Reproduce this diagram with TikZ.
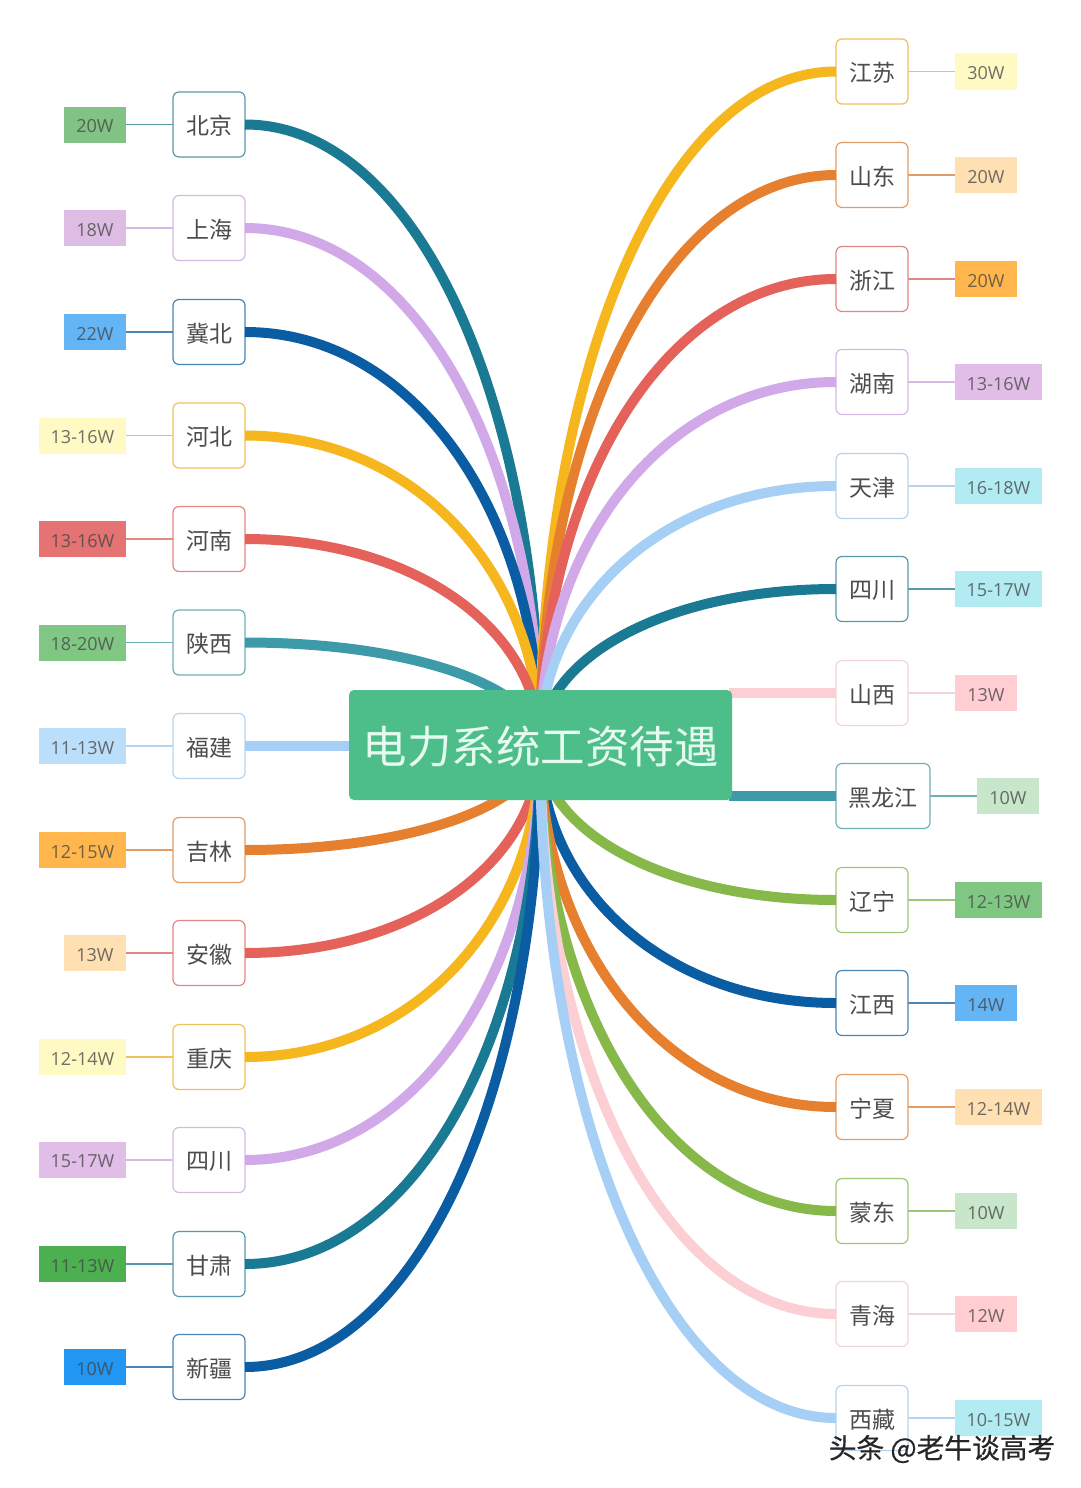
\documentclass[tikz,border=0pt]{standalone}
\usepackage{fontspec}
\setmainfont{Open Sans}
\newfontfamily\cjk{Noto Sans CJK SC}
\newfontfamily\cjkmark[FakeBold=0.5]{Noto Sans CJK SC}
\newcommand\lowtxt[1]{\raisebox{-1.6pt}[\height][\depth]{#1}}
\definecolor{cteal}{HTML}{1A7A94}
\definecolor{cpurp}{HTML}{D2A9E8}
\definecolor{cblue}{HTML}{0A5CA3}
\definecolor{cyell}{HTML}{F5B61E}
\definecolor{cred}{HTML}{E4625A}
\definecolor{ctealb}{HTML}{3D9AA8}
\definecolor{clblue}{HTML}{A6CFF5}
\definecolor{corange}{HTML}{E67F2E}
\definecolor{cgreen}{HTML}{86B94A}
\definecolor{cpink}{HTML}{FBCFD3}
\definecolor{BBDEFBc}{HTML}{BBDEFB}
\definecolor{FFCDD2c}{HTML}{FFCDD2}
\definecolor{C8E6C9c}{HTML}{C8E6C9}
\definecolor{hubgreen}{HTML}{4DBD8A}
\definecolor{hubtext}{HTML}{E6FBEF}
\tikzset{
  citybox/.style={draw=#1!75!white!92!gray,fill=white,line width=1.2pt,rounded corners=6pt,minimum height=65pt,inner sep=0pt,outer sep=0pt,text=black!70,font=\cjk\fontsize{23}{26}\selectfont},
  valbox/.style={fill=#1,minimum height=36pt,inner sep=0pt,outer sep=0pt,text=#1!30!black!80,font=\fontsize{18}{22}\selectfont},
  branch/.style={draw=#1,line width=10pt},
  twig/.style={draw=#1!75!white!92!gray,line width=1.2pt},
  hubbox/.style={fill=hubgreen,rounded corners=5pt,minimum width=383pt,minimum height=110pt,inner sep=0pt,outer sep=0pt,text=hubtext,font=\cjk\fontsize{44.5}{50}\selectfont},
  mark text/.style={text=black!85,inner sep=0pt,font=\cjkmark\fontsize{27.7}{32}\selectfont}
}
\begin{document}
\begin{tikzpicture}[x=1pt,y=-1pt]
\useasboundingbox[fill=white] (0,0) rectangle (1080,1488);
\coordinate (hub) at (540,745);
\coordinate (hubleft) at (352,745);
\coordinate (hubright) at (729,745);
% left side
\foreach \id/\nm/\yy/\val/\vw/\col/\vf in {
 a/北京/124.5/20W/62/cteal/82C285,
 b/上海/228/18W/62/cpurp/DDBDE3,
 c/冀北/332/22W/62/cblue/64B5F6,
 d/河北/435.5/13-16W/87/cyell/FFF9C4,
 e/河南/539/13-16W/87/cred/E57373,
 f/陕西/642.5/18-20W/87/ctealb/81C784,
 h/吉林/850/12-15W/87/corange/FFB74D,
 i/安徽/953/13W/62/cred/FFE0B2,
 j/重庆/1057/12-14W/87/cyell/FFF9C4,
 k/四川/1160/15-17W/87/cpurp/E1BEE7,
 l/甘肃/1264/11-13W/87/cteal/4CAF50,
 m/新疆/1367/10W/62/cblue/2196F3}{
  \definecolor{vfc}{HTML}{\vf}
  \pgfmathsetmacro\dy{745-\yy}
  \node[citybox=\col,minimum width=72pt] (L\id) at (209,\yy) {\lowtxt{\nm}};
  \node[valbox=vfc,minimum width=\vw pt,anchor=east] (LV\id) at (126,\yy) {\lowtxt{\val}};
  \draw[twig=\col] (LV\id.east) -- (L\id.west);
  \draw[branch=\col] (L\id.east) .. controls +(172,0) and +(0,{-0.55*\dy}) .. (hub);
}
% right side
\foreach \id/\nm/\yy/\val/\vw/\col/\vf in {
 a/江苏/71.5/30W/62/cyell/FFF9C4,
 b/山东/175/20W/62/corange/FFE0B2,
 c/浙江/279/20W/62/cred/FFB74D,
 d/湖南/382/13-16W/87/cpurp/E1BEE7,
 e/天津/486/16-18W/87/clblue/B2EBF2,
 f/四川/589/15-17W/87/cteal/B2EBF2,
 i/辽宁/900/12-13W/87/cgreen/81C784,
 j/江西/1003/14W/62/cblue/64B5F6,
 k/宁夏/1107/12-14W/87/corange/FFE0B2,
 l/蒙东/1211/10W/62/cgreen/C8E6C9,
 m/青海/1314/12W/62/cpink/FFCDD2,
 n/西藏/1418/10-15W/87/clblue/B2EBF2}{
  \definecolor{vfc}{HTML}{\vf}
  \pgfmathsetmacro\dy{745-\yy}
  \node[citybox=\col,minimum width=72pt] (R\id) at (872,\yy) {\lowtxt{\nm}};
  \node[valbox=vfc,minimum width=\vw pt,anchor=west] (RV\id) at (955,\yy) {\lowtxt{\val}};
  \draw[twig=\col] (R\id.east) -- (RV\id.west);
  \draw[branch=\col] (R\id.west) .. controls +(-172,0) and +(0,{-0.55*\dy}) .. (hub);
}
% near-horizontal branches
\node[citybox=clblue,minimum width=72pt] (Lg) at (209,746) {\lowtxt{福建}};
\node[valbox=BBDEFBc,minimum width=87pt,anchor=east] (LVg) at (126,746) {\lowtxt{11-13W}};
\draw[twig=clblue] (LVg.east) -- (Lg.west);
\draw[branch=clblue] (Lg.east) -- (hubleft |- Lg.east);
\node[citybox=cpink,minimum width=72pt] (Rg) at (872,693) {\lowtxt{山西}};
\node[valbox=FFCDD2c,minimum width=62pt,anchor=west] (RVg) at (955,693) {\lowtxt{13W}};
\draw[twig=cpink] (Rg.east) -- (RVg.west);
\draw[branch=cpink] (Rg.west) -- (hubright |- Rg.west);
\node[citybox=ctealb,minimum width=94pt] (Rh) at (883,796) {\lowtxt{黑龙江}};
\node[valbox=C8E6C9c,minimum width=62pt,anchor=west] (RVh) at (977,796) {\lowtxt{10W}};
\draw[twig=ctealb] (Rh.east) -- (RVh.west);
\draw[branch=ctealb] (Rh.west) -- (hubright |- Rh.west);
\node[hubbox] (center) at (540.5,745) {\lowtxt{电力系统工资待遇}};
\node[mark text] (wm) at (942,1449) {头条 @老牛谈高考};
\end{tikzpicture}
\end{document}
